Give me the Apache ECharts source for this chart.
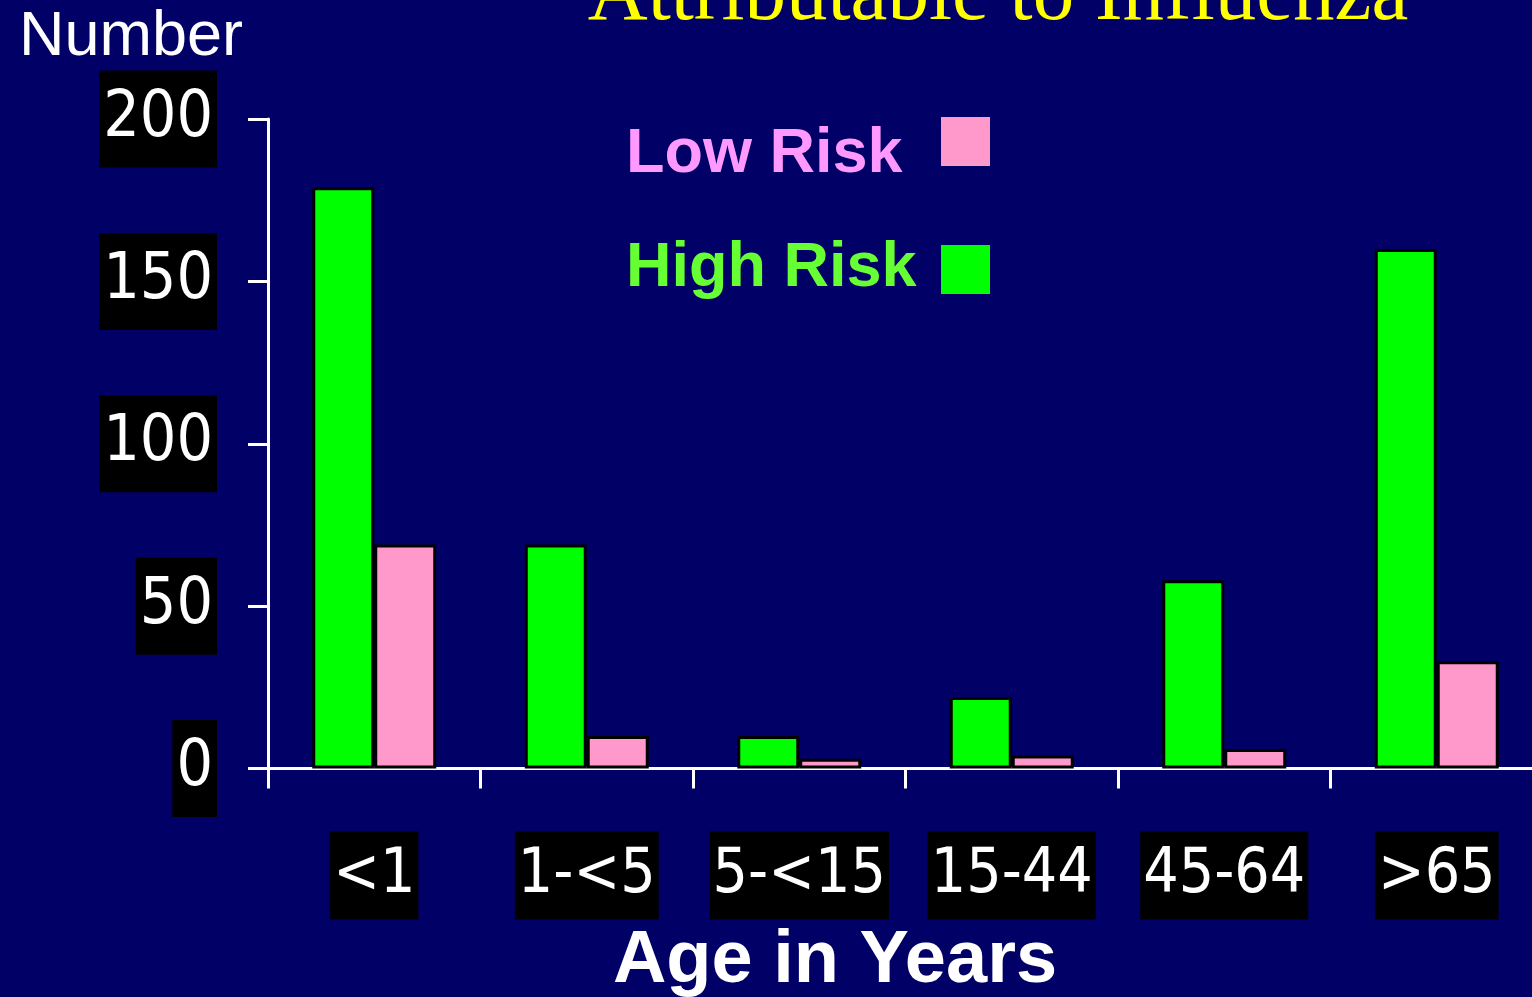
<!DOCTYPE html>
<html>
<head>
<meta charset="utf-8">
<style>
  html, body { margin: 0; padding: 0; background: #000066; overflow: hidden; }
  /* the plot's last category runs a little past the right edge of the page */
  #chart { width: 1543px; height: 997px; }
</style>
<script src="https://cdn.jsdelivr.net/npm/echarts@6/dist/echarts.min.js"></script>
</head>
<body>
<div id="chart"></div>
<script>
// Age groups and hospitalization counts attributable to influenza
const ageGroups = ['<1', '1-<5', '5-<15', '15-44', '45-64', '>65'];
const highRisk = [179, 69, 10, 22, 58, 160];
const lowRisk = [69, 10, 3, 4, 6, 33];
const yTicks = { min: 0, max: 200, step: 50 };

const NAVY = '#000066';
const GREEN = '#00ff00';
const PINK = '#ff99cc';
const LABEL_FONT = '"DejaVu Sans Condensed", "Liberation Sans Narrow", sans-serif';

const chart = echarts.init(document.getElementById('chart'), null, { renderer: 'canvas' });

const barStyle = (color) => ({ color: color, borderColor: '#000000', borderWidth: 3 });

chart.setOption({
  backgroundColor: NAVY,
  animation: false,
  grid: { left: 268, top: 119, right: 0, bottom: 228.5, containLabel: false },
  xAxis: {
    type: 'category',
    data: ageGroups,
    axisLine: { lineStyle: { color: '#ffffff', width: 3 } },
    axisTick: { show: true, inside: false, length: 20, lineStyle: { color: '#ffffff', width: 3 } },
    axisLabel: {
      margin: 63,
      color: '#ffffff',
      fontFamily: LABEL_FONT,
      fontSize: 62,
      lineHeight: 50,
      backgroundColor: '#000000',
      padding: [19, 3, 19, 3],
      interval: 0
    },
    splitLine: { show: false }
  },
  yAxis: {
    type: 'value',
    min: yTicks.min,
    max: yTicks.max,
    interval: yTicks.step,
    axisLine: { show: true, lineStyle: { color: '#ffffff', width: 3 } },
    axisTick: { show: true, inside: false, length: 20, lineStyle: { color: '#ffffff', width: 3 } },
    axisLabel: {
      margin: 51,
      color: '#ffffff',
      fontFamily: LABEL_FONT,
      fontSize: 64,
      lineHeight: 53,
      backgroundColor: '#000000',
      padding: [21, 4, 23, 4]
    },
    splitLine: { show: false }
  },
  series: [
    {
      name: 'High Risk',
      type: 'bar',
      data: highRisk,
      barWidth: 62,
      barGap: '0%',
      itemStyle: barStyle(GREEN)
    },
    {
      name: 'Low Risk',
      type: 'bar',
      data: lowRisk,
      barWidth: 62,
      barGap: '0%',
      itemStyle: barStyle(PINK)
    }
  ],
  graphic: [
    {
      type: 'text',
      style: {
        text: 'Attributable to Influenza',
        x: 998, y: -3,
        align: 'center', verticalAlign: 'middle',
        fill: '#ffff00',
        font: '83px "Liberation Serif", "Times New Roman", serif'
      }
    },
    {
      type: 'text',
      style: {
        text: 'Number', x: 19, y: 38,
        align: 'left', verticalAlign: 'middle',
        fill: '#ffffff',
        font: '63px "Liberation Sans", Arial, sans-serif'
      }
    },
    {
      type: 'text',
      style: {
        text: 'Age in Years', x: 835, y: 962,
        align: 'center', verticalAlign: 'middle',
        fill: '#ffffff',
        font: 'bold 74px "Liberation Sans", Arial, sans-serif'
      }
    },
    // legend
    {
      type: 'text',
      style: {
        text: 'Low Risk', x: 626, y: 155,
        align: 'left', verticalAlign: 'middle',
        fill: '#ff99ff',
        font: 'bold 63px "Liberation Sans", Arial, sans-serif'
      }
    },
    {
      type: 'rect',
      shape: { x: 941, y: 117, width: 49, height: 49 },
      style: { fill: PINK }
    },
    {
      type: 'text',
      style: {
        text: 'High Risk', x: 626, y: 269,
        align: 'left', verticalAlign: 'middle',
        fill: '#66ff33',
        font: 'bold 63px "Liberation Sans", Arial, sans-serif'
      }
    },
    {
      type: 'rect',
      shape: { x: 941, y: 245, width: 49, height: 49 },
      style: { fill: GREEN }
    }
  ]
});
</script>
</body>
</html>
